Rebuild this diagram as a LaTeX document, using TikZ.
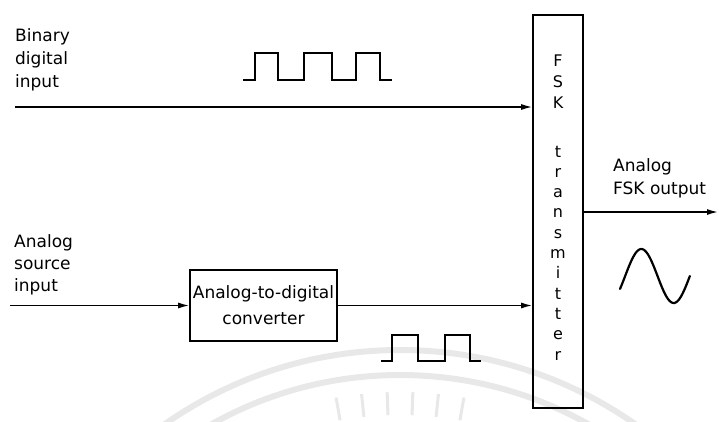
\documentclass[tikz,border=0pt]{standalone}
\usepackage{fontspec}
\setmainfont{DejaVu Sans}
\usetikzlibrary{arrows.meta}
\begin{document}
\begin{tikzpicture}[x=1pt,y=-1pt,
  wire/.style={line width=1.4pt,-{Latex[length=11pt,width=6pt]}},
  blk/.style={draw,line width=1.6pt,inner sep=0pt},
  wave/.style={line width=2.2pt,line join=miter},
  lbl/.style={font=\fontsize{17}{22}\selectfont,anchor=base west,inner sep=0pt},
  vlet/.style={font=\fontsize{16}{18}\selectfont,anchor=base,inner sep=0pt},
  wm/.style={draw=gray!18,line width=6pt}]
\useasboundingbox (0,0) rectangle (719,421);
% faint watermark arcs
\begin{scope}
  \clip (0,0) rectangle (719,421);
  \draw[wm] (400,760) circle[radius=410pt];
  \draw[wm] (400,760) circle[radius=385pt];
  \foreach \a in {80,84,88,92,96,100}
    \draw[draw=gray!18,line width=3pt] ({400+345*cos(\a)},{760-345*sin(\a)}) -- ({400+368*cos(\a)},{760-368*sin(\a)});
\end{scope}
% blocks
\node[blk,minimum width=147pt,minimum height=71pt] (adc) at (263.5,305.5) {};
\node[blk,minimum width=50pt,minimum height=393pt] (fsk) at (558,211.5) {};
% ADC text
\node[font=\fontsize{17}{22}\selectfont,anchor=base,inner sep=0pt] (adc1) at (263.5,298) {Analog-to-digital};
\node[font=\fontsize{17}{22}\selectfont,anchor=base,inner sep=0pt] (adc2) at (263.5,324) {converter};
% FSK transmitter vertical letters
\foreach \c/\y [count=\i] in {F/66,S/87,K/108,t/157,r/177.3,a/197.6,n/217.9,s/238.2,m/258.5,i/278.8,t/299.1,t/319.4,e/339.7,r/360}
  \node[vlet] (v\i) at (558,\y) {\c};
% labels
\node[lbl] (b1) at (15,41.5) {Binary};
\node[lbl] (b2) at (15,64.5) {digital};
\node[lbl] (b3) at (15,87.5) {input};
\node[lbl] (a1) at (14,247) {Analog};
\node[lbl] (a2) at (14,269) {source};
\node[lbl] (a3) at (14,291) {input};
\node[lbl] (o1) at (613,171) {Analog};
\node[lbl] (o2) at (613,194) {FSK output};
% connectors
\coordinate (bin) at (15,107);
\draw[wire] (bin) -- (bin -| fsk.west);
\coordinate (ain) at (10,305.5);
\draw[wire] (ain) -- (adc.west);
\draw[wire] (adc.east) -- (adc.east -| fsk.west);
\coordinate (out) at (718,212);
\draw[wire] (fsk.east |- out) -- (out);
% waveforms
\draw[wave] (243,80) -- (255,80) -- (255,53) -- (278,53) -- (278,80) -- (304,80) -- (304,53) -- (332,53) -- (332,80) -- (356,80) -- (356,53) -- (380,53) -- (380,80) -- (392,80);
\draw[wave] (381,361) -- (392,361) -- (392,335) -- (418,335) -- (418,361) -- (445,361) -- (445,335) -- (470,335) -- (470,361) -- (481,361);
\draw[wave,line cap=round] plot[domain=-0.5:6.283,samples=60,variable=\t] ({620+(\t+0.5)*10.3},{276-27*sin(\t r)});
\end{tikzpicture}
\end{document}
